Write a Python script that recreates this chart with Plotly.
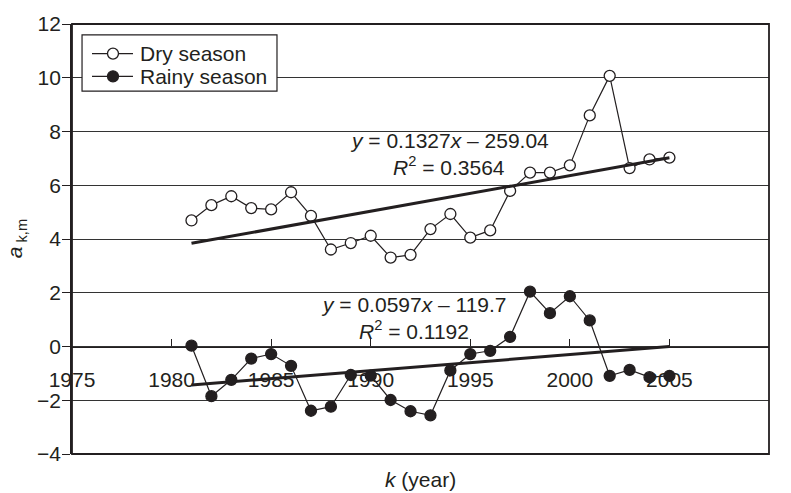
import plotly.graph_objects as go

# Years of record
years = list(range(1981, 2006))

# Seasonal coefficient a_{k,m}
dry_season = [4.69, 5.26, 5.59, 5.15, 5.10, 5.74, 4.86, 3.61, 3.85, 4.12,
              3.31, 3.41, 4.37, 4.93, 4.05, 4.32, 5.79, 6.47, 6.47, 6.74,
              8.60, 10.07, 6.64, 6.96, 7.03]
rainy_season = [0.03, -1.85, -1.24, -0.45, -0.28, -0.72, -2.39, -2.24, -1.06, -1.08,
                -1.99, -2.41, -2.56, -0.89, -0.28, -0.16, 0.36, 2.04, 1.24, 1.87,
                0.97, -1.09, -0.87, -1.14, -1.09]

# Linear trends (slope, intercept, R^2)
dry_fit = (0.1327, -259.04, 0.3564)
rainy_fit = (0.0597, -119.7, 0.1192)

series_names = ["Dry season", "Rainy season"]
x_ticks = [1975, 1980, 1985, 1990, 1995, 2000, 2005, 2010]
y_ticks = [-4, -2, 0, 2, 4, 6, 8, 10, 12]

INK = "#231f20"
FONT = "Arial, Liberation Sans, sans-serif"
FS = 21
MARKER_FILLS = ["white", INK]

fig = go.Figure()

for name, values, fill in zip(series_names, (dry_season, rainy_season), MARKER_FILLS):
    fig.add_trace(go.Scatter(
        x=years, y=values, name=name, mode="lines+markers", showlegend=False,
        line=dict(color=INK, width=1.2),
        marker=dict(symbol="circle", size=11, color=fill,
                    line=dict(color=INK, width=1.3)),
    ))

# Trend lines over the record period
for slope, intercept, _ in (dry_fit, rainy_fit):
    xs = [years[0], years[-1]]
    fig.add_trace(go.Scatter(
        x=xs, y=[slope * v + intercept for v in xs], mode="lines",
        line=dict(color=INK, width=3), showlegend=False, hoverinfo="skip",
    ))


def equation_lines(fit):
    slope, intercept, r2 = fit
    sign = "–" if intercept < 0 else "+"
    eq = f"<i>y</i> = {slope:g}<i>x</i> {sign} {abs(intercept):g}"
    rr = f"<i>R</i><sup>2</sup> = {r2:.4f}"
    return eq, rr


txt_font = dict(size=FS, color=INK, family=FONT)
annotations = []
for fit, xc, y1, y2 in ((dry_fit, 1993.95, 7.66, 6.72),
                        (rainy_fit, 1992.15, 1.55, 0.6)):
    eq, rr = equation_lines(fit)
    annotations.append(dict(x=xc, y=y1, xref="x", yref="y", text=eq,
                            showarrow=False, font=txt_font))
    annotations.append(dict(x=xc, y=y2, xref="x", yref="y", text=rr,
                            showarrow=False, font=txt_font))

annotations.append(dict(x=0.5, y=-0.06, xref="paper", yref="paper",
                        text="<i>k</i> (year)", showarrow=False,
                        xanchor="center", yanchor="middle", font=txt_font))
annotations.append(dict(x=-0.08, y=0.5, xref="paper", yref="paper",
                        text="<i>a</i><sub> k,m</sub>", showarrow=False,
                        textangle=-90, xanchor="center", yanchor="middle",
                        font=txt_font))

# Frame around the plotting area
shapes = [dict(type="rect", xref="paper", yref="paper", x0=0, y0=0, x1=1, y1=1,
               line=dict(color=INK, width=1.8), layer="above")]

# Legend box in the upper-left corner
shapes.append(dict(type="rect", xref="paper", yref="paper",
                   x0=0.0144, x1=0.2941, y0=0.8440, y1=0.9748,
                   line=dict(color=INK, width=1.2), fillcolor="white", layer="above"))
for name, fill, row_y in zip(series_names, MARKER_FILLS, (0.9312, 0.8784)):
    shapes.append(dict(type="line", xref="paper", yref="paper",
                       x0=0.0287, x1=0.0875, y0=row_y, y1=row_y,
                       line=dict(color=INK, width=1.2), layer="above"))
    shapes.append(dict(type="circle", xref="paper", yref="paper",
                       xsizemode="pixel", ysizemode="pixel",
                       xanchor=0.0588, yanchor=row_y,
                       x0=-5.5, x1=5.5, y0=-5.5, y1=5.5,
                       line=dict(color=INK, width=1.3), fillcolor=fill, layer="above"))
    annotations.append(dict(x=0.0947, y=row_y, xref="paper", yref="paper",
                            text=name, showarrow=False, xanchor="left",
                            yanchor="middle", font=txt_font))

fig.update_layout(
    width=791, height=493,
    margin=dict(l=72, r=22, t=18, b=39),
    paper_bgcolor="white", plot_bgcolor="white",
    font=dict(family=FONT, size=FS, color=INK),
    showlegend=False,
    annotations=annotations,
    shapes=shapes,
    xaxis=dict(range=[1975, 2010], tickvals=x_ticks, ticks="inside", ticklen=7,
               tickcolor=INK, tickwidth=1.2, showgrid=False, zeroline=False,
               showline=True, linecolor=INK, linewidth=1.2,
               anchor="free", position=0.25, ticklabelstandoff=14,
               tickfont=txt_font),
    yaxis=dict(range=[-4, 12], tickvals=y_ticks, ticks="outside", ticklen=8,
               tickcolor=INK, tickwidth=1.2, showgrid=True, gridcolor="#333333",
               gridwidth=1.2, zeroline=False, showline=True, linecolor=INK,
               linewidth=1.8, ticklabelstandoff=-3, tickfont=txt_font),
)

fig.write_html("out.html")
